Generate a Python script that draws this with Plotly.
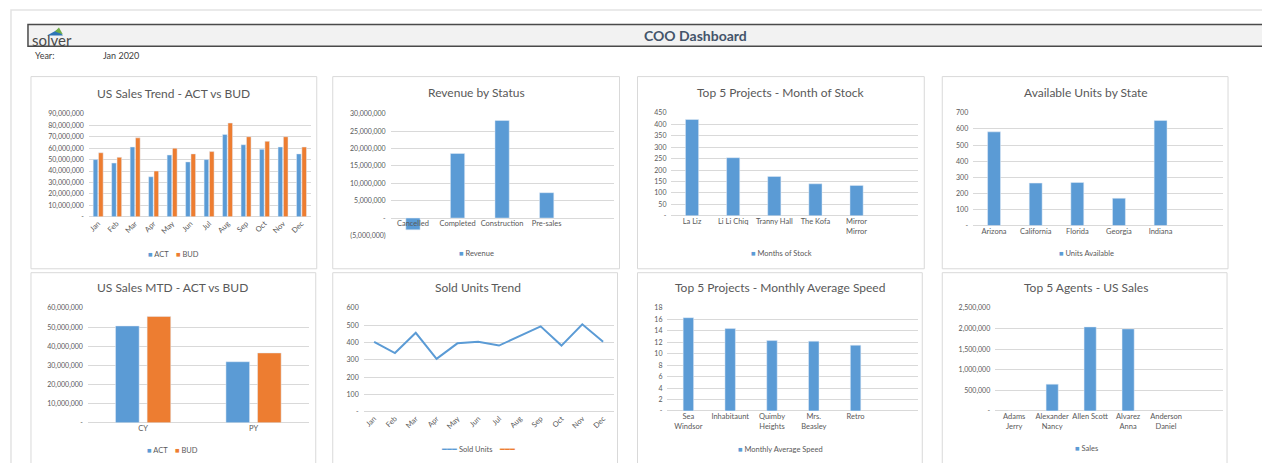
import plotly.graph_objects as go

W, H = 1262, 463
FONT = "Lato"
GRAY = "#595959"
GRID = "#d9d9d9"
BLUE = "#5b9bd5"
ORANGE = "#ed7d31"

# ---------------- data ----------------
months = ["Jan", "Feb", "Mar", "Apr", "May", "Jun", "Jul", "Aug", "Sep", "Oct", "Nov", "Dec"]
trend_act = [50e6, 47e6, 61e6, 35e6, 54e6, 48e6, 50e6, 72e6, 63e6, 59e6, 61e6, 55e6]
trend_bud = [56e6, 52e6, 69e6, 40e6, 60e6, 55e6, 57e6, 82e6, 70e6, 66e6, 70e6, 61e6]

status = ["Cancelled", "Completed", "Construction", "Pre-sales"]
revenue = [-3.4e6, 18.6e6, 28.1e6, 7.3e6]

stock_projects = ["La Liz", "Li Li Chiq", "Tranny Hall", "The Kofa", "Mirror<br>Mirror"]
months_of_stock = [421, 254, 172, 140, 133]

states = ["Arizona", "California", "Florida", "Georgia", "Indiana"]
units_available = [582, 264, 268, 170, 653]

mtd_periods = ["CY", "PY"]
mtd_act = [50.6e6, 31.9e6]
mtd_bud = [55.6e6, 36.5e6]

sold_units = [405, 340, 457, 307, 396, 405, 383, 438, 494, 383, 506, 405]

speed_projects = ["Sea<br>Windsor", "Inhabitaunt", "Quimby<br>Heights", "Mrs.<br>Beasley", "Retro"]
avg_speed = [16.3, 14.4, 12.3, 12.2, 11.5]

agents = ["Adams<br>Jerry", "Alexander<br>Nancy", "Allen Scott", "Alvarez<br>Anna", "Anderson<br>Daniel"]
agent_sales = [0, 651000, 2040000, 1992000, 0]

ticks_trend = [0, 10e6, 20e6, 30e6, 40e6, 50e6, 60e6, 70e6, 80e6, 90e6]
ticks_revenue = [-5e6, 0, 5e6, 10e6, 15e6, 20e6, 25e6, 30e6]
ticks_stock = [0, 50, 100, 150, 200, 250, 300, 350, 400, 450]
ticks_units = [0, 100, 200, 300, 400, 500, 600, 700]
ticks_mtd = [0, 10e6, 20e6, 30e6, 40e6, 50e6, 60e6]
ticks_sold = [0, 100, 200, 300, 400, 500, 600]
ticks_speed = [0, 2, 4, 6, 8, 10, 12, 14, 16, 18]
ticks_agents = [0, 500000, 1000000, 1500000, 2000000, 2500000]


def acct(v):
    if v == 0:
        return "-"
    if v < 0:
        return "({:,.0f})".format(abs(v))
    return "{:,.0f}".format(v)


def px(x):
    return x / W


def py(y):
    return 1 - y / H


NB = "\u00a0"


def sq(color):
    return f"<span style='color:{color}'>■</span>"


def ln(color):
    return f"<span style='color:{color}'>━━━</span>"


def leg_bar(items):
    return (NB * 4).join(sq(c) + NB + name for name, c in items)


# ---------------- panel layout (pixels) ----------------
panels = [
    dict(title="US Sales Trend - ACT vs BUD", box=(30, 316, 73, 269), plot=(88, 310, 111, 216),
         tpos=(173, 90), lpos=(173, 254), ticks=ticks_trend, n=12, angle=-45,
         legend=leg_bar([("ACT", BLUE), ("BUD", ORANGE)])),
    dict(title="Revenue by Status", box=(332, 619, 73, 269), plot=(390, 613, 111, 235),
         tpos=(476, 89), lpos=(476, 253), ticks=ticks_revenue, n=5, angle=0,
         legend=leg_bar([("Revenue", BLUE)])),
    dict(title="Top 5 Projects - Month of Stock", box=(637, 924, 73, 269), plot=(671, 918, 110, 215),
         tpos=(781, 89), lpos=(781, 253), ticks=ticks_stock, n=6, angle=0,
         legend=leg_bar([("Months of Stock", BLUE)])),
    dict(title="Available Units by State", box=(942, 1228, 73, 269), plot=(973, 1223, 110, 225),
         tpos=(1086, 89), lpos=(1086, 253), ticks=ticks_units, n=6, angle=0,
         legend=leg_bar([("Units Available", BLUE)])),
    dict(title="US Sales MTD - ACT vs BUD", box=(30, 315, 273, 475), plot=(87, 308, 309, 426),
         tpos=(172, 288), lpos=(172, 454), ticks=ticks_mtd, n=2, angle=0,
         legend=leg_bar([("ACT", BLUE), ("BUD", ORANGE)])),
    dict(title="Sold Units Trend", box=(332, 617, 273, 475), plot=(363, 613, 309, 415),
         tpos=(477, 288), lpos=(477, 453), ticks=ticks_sold, n=12, angle=-45,
         legend=ln(BLUE) + NB + "Sold Units" + NB * 4 + ln(ORANGE)),
    dict(title="Top 5 Projects - Monthly Average Speed", box=(637, 922, 273, 475), plot=(667, 918, 309, 414),
         tpos=(780, 288), lpos=(780, 453), ticks=ticks_speed, n=6, angle=0,
         legend=leg_bar([("Monthly Average Speed", BLUE)])),
    dict(title="Top 5 Agents - US Sales", box=(942, 1227, 273, 475), plot=(995, 1223, 309, 414),
         tpos=(1086, 288), lpos=(1086, 452), ticks=ticks_agents, n=6, angle=0,
         legend=leg_bar([("Sales", BLUE)])),
]

fig = go.Figure()


def ax(i, kind):
    return kind if i == 1 else f"{kind}{i}"


# Panel 1
fig.add_trace(go.Bar(x=months, y=trend_act, name="ACT", marker_color=BLUE, width=0.25, offset=-0.27,
                     xaxis="x", yaxis="y"))
fig.add_trace(go.Bar(x=months, y=trend_bud, name="BUD", marker_color=ORANGE, width=0.25, offset=0.02,
                     xaxis="x", yaxis="y"))
# Panel 2
fig.add_trace(go.Bar(x=status, y=revenue, name="Revenue", marker_color=BLUE, width=0.32,
                     xaxis="x2", yaxis="y2"))
# Panel 3
fig.add_trace(go.Bar(x=stock_projects, y=months_of_stock, name="Months of Stock", marker_color=BLUE, width=0.32,
                     xaxis="x3", yaxis="y3"))
# Panel 4
fig.add_trace(go.Bar(x=states, y=units_available, name="Units Available", marker_color=BLUE, width=0.31,
                     xaxis="x4", yaxis="y4"))
# Panel 5
fig.add_trace(go.Bar(x=mtd_periods, y=mtd_act, name="ACT", marker_color=BLUE, width=0.214, offset=-0.25,
                     xaxis="x5", yaxis="y5"))
fig.add_trace(go.Bar(x=mtd_periods, y=mtd_bud, name="BUD", marker_color=ORANGE, width=0.214, offset=0.036,
                     xaxis="x5", yaxis="y5"))
# Panel 6
fig.add_trace(go.Scatter(x=months, y=sold_units, name="Sold Units", mode="lines",
                         line=dict(color=BLUE, width=2), xaxis="x6", yaxis="y6"))
# Panel 7
fig.add_trace(go.Bar(x=speed_projects, y=avg_speed, name="Monthly Average Speed", marker_color=BLUE, width=0.25,
                     xaxis="x7", yaxis="y7"))
# Panel 8
fig.add_trace(go.Bar(x=agents, y=agent_sales, name="Sales", marker_color=BLUE, width=0.32,
                     xaxis="x8", yaxis="y8"))

layout = dict(
    width=W, height=H, margin=dict(l=0, r=0, t=0, b=0),
    paper_bgcolor="white", plot_bgcolor="rgba(0,0,0,0)",
    barmode="overlay", showlegend=False,
    font=dict(family=FONT, color=GRAY, size=8),
)

shapes = []
annotations = []

for i, p in enumerate(panels, start=1):
    bx0, bx1, by0, by1 = p["box"]
    shapes.append(dict(type="rect", xref="paper", yref="paper", x0=px(bx0), x1=px(bx1), y0=py(by0), y1=py(by1),
                       line=dict(color=GRID, width=1), fillcolor="white", layer="below"))
    x0, x1, yt, yb = p["plot"]
    t = p["ticks"]
    xa = dict(domain=[px(x0), px(x1)], anchor=ax(i, "y"), type="category", showgrid=False, showline=False,
              zeroline=False, ticks="", tickangle=p["angle"], tickfont=dict(size=7.5, color=GRAY, family=FONT),
              range=[-0.5, p["n"] - 0.5], fixedrange=True)
    ya = dict(domain=[py(yb), py(yt)], anchor=ax(i, "x"), range=[t[0], t[-1]], tickvals=t,
              ticktext=[acct(v) for v in t], showgrid=True, gridcolor=GRID, gridwidth=1,
              zeroline=True, zerolinecolor=GRID, zerolinewidth=1, showline=False, ticks="",
              tickfont=dict(size=7, color=GRAY, family=FONT), ticklabelstandoff=4, fixedrange=True)
    if i == 2:
        xa["anchor"] = "free"
        xa["position"] = py(217)
    layout[ax(i, "xaxis")] = xa
    layout[ax(i, "yaxis")] = ya
    tx, ty = p["tpos"]
    annotations.append(dict(text=p["title"], x=px(tx), y=py(ty), xref="paper", yref="paper",
                            xanchor="center", yanchor="middle", showarrow=False,
                            font=dict(size=12, color=GRAY, family=FONT)))
    lx, ly = p["lpos"]
    annotations.append(dict(text=p["legend"], x=px(lx), y=py(ly), xref="paper", yref="paper",
                            xanchor="center", yanchor="middle", showarrow=False,
                            font=dict(size=7.5, color=GRAY, family=FONT)))

# page frame
shapes.insert(0, dict(type="rect", xref="paper", yref="paper", x0=px(10), x1=1.02, y0=-0.02, y1=py(5),
                      line=dict(color="#e3e3e3", width=1.5), fillcolor="white", layer="below"))
# header bar
shapes.append(dict(type="rect", xref="paper", yref="paper", x0=px(27), x1=1.01, y0=py(42), y1=py(20),
                   line=dict(color="#4a4a4a", width=1.5), fillcolor="#f2f2f2", layer="below"))


def path(points):
    return "M " + " L ".join(f"{px(a):.5f},{py(b):.5f}" for a, b in points) + " Z"


shapes.append(dict(type="path", xref="paper", yref="paper", path=path([(46, 31), (57, 25), (62, 31)]),
                   fillcolor="#2e75b6", line=dict(width=0), layer="above"))
shapes.append(dict(type="path", xref="paper", yref="paper", path=path([(54, 27), (58, 23), (62, 30)]),
                   fillcolor="#70ad47", line=dict(width=0), layer="above"))

annotations += [
    dict(text="solver", x=px(29), y=py(36), xref="paper", yref="paper", xanchor="left", yanchor="middle",
         showarrow=False, font=dict(size=15, color="#4a4a4a", family=FONT)),
    dict(text="<b>COO Dashboard</b>", x=px(695), y=py(31), xref="paper", yref="paper", xanchor="center",
         yanchor="middle", showarrow=False, font=dict(size=14, color="#44546a", family=FONT)),
    dict(text="Year:", x=px(32), y=py(52), xref="paper", yref="paper", xanchor="left", yanchor="middle",
         showarrow=False, font=dict(size=9, color="#404040", family=FONT)),
    dict(text="Jan 2020", x=px(100), y=py(52), xref="paper", yref="paper", xanchor="left", yanchor="middle",
         showarrow=False, font=dict(size=9, color="#404040", family=FONT)),
]

layout["shapes"] = shapes
layout["annotations"] = annotations
fig.update_layout(**layout)

fig.write_html("out.html", config={"displayModeBar": False, "staticPlot": True},
               post_script="document.body.style.margin='0px';")
